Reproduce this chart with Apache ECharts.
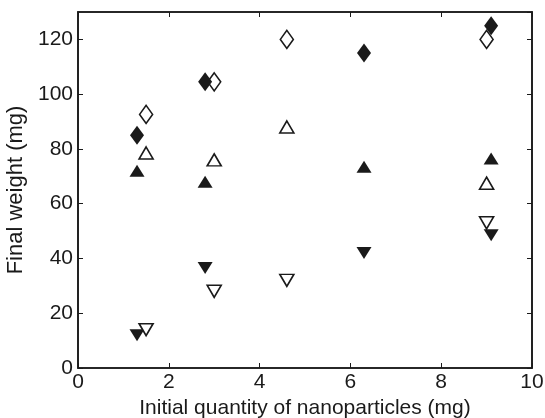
<!DOCTYPE html>
<html>
<head>
<meta charset="utf-8">
<script src="https://cdn.jsdelivr.net/npm/echarts@6/dist/echarts.min.js"></script>
<style>
  html, body { margin: 0; padding: 0; background: #fff; }
  #chart { width: 545px; height: 418px; }
</style>
</head>
<body>
<div id="chart"></div>
<script>
// x positions (initial quantity, mg)
const xFilled = [1.3, 2.8, 6.3, 9.1];
const xOpen = [1.5, 3.0, 4.6, 9.0];

// final weight (mg), per marker type
const filledDiamond = [85, 104.5, 115, 125];
const openDiamond = [92.6, 104.5, 120, 120];
const filledUp = [72, 68, 73.5, 76.5];
const openUp = [78.5, 76, 88, 67.5];
const filledDown = [12, 36.5, 42, 48.5];
const openDown = [14, 28, 32, 53];

const FONT = 'Liberation Sans, Arial, Helvetica, sans-serif';
const INK = '#1a1a1a';

function pairs(xs, ys) {
  return xs.map((x, i) => [x, ys[i]]);
}

function markerSeries(xs, ys, symbol, size, filled, rotate) {
  return {
    type: 'scatter',
    data: pairs(xs, ys),
    symbol: symbol,
    symbolSize: size,
    symbolRotate: rotate || 0,
    itemStyle: {
      color: filled ? INK : '#fff',
      borderColor: INK,
      borderWidth: filled ? 0 : 1.6,
      opacity: 1
    },
    emphasis: { disabled: true }
  };
}

const chart = echarts.init(document.getElementById('chart'), null, { renderer: 'canvas' });

const axisLine = { show: true, onZero: false, lineStyle: { color: INK, width: 1.6 } };
const tickIn = { show: true, inside: true, length: 5, lineStyle: { color: INK, width: 1 } };
const labelStyle = { color: INK, fontFamily: FONT, fontSize: 21 };
const titleStyle = { color: INK, fontFamily: FONT, fontSize: 21 };

chart.setOption({
  animation: false,
  backgroundColor: '#fff',
  grid: {
    left: 78, right: 13, top: 12, bottom: 50,
    outerBoundsMode: 'none', containLabel: false,
    show: true, borderColor: INK, borderWidth: 1.6, backgroundColor: 'transparent'
  },
  xAxis: [
    {
      type: 'value', min: 0, max: 10, interval: 2,
      name: 'Initial quantity of nanoparticles (mg)',
      nameLocation: 'middle', nameGap: 24,
      nameTextStyle: titleStyle,
      axisLine: axisLine, axisTick: tickIn,
      axisLabel: Object.assign({ margin: 4 }, labelStyle),
      splitLine: { show: false }
    },
    {
      type: 'value', min: 0, max: 10, interval: 2, position: 'top',
      axisLine: axisLine, axisTick: tickIn,
      axisLabel: { show: false }, splitLine: { show: false }
    }
  ],
  yAxis: [
    {
      type: 'value', min: 0, max: 130, interval: 20,
      name: 'Final weight (mg)',
      nameLocation: 'middle', nameGap: 41,
      nameTextStyle: Object.assign({}, titleStyle, { fontSize: 22 }),
      axisLine: axisLine, axisTick: tickIn,
      axisLabel: Object.assign({ margin: 5, showMaxLabel: false }, labelStyle),
      splitLine: { show: false }
    },
    {
      type: 'value', min: 0, max: 130, interval: 20, position: 'right',
      axisLine: axisLine, axisTick: tickIn,
      axisLabel: { show: false }, splitLine: { show: false }
    }
  ],
  series: [
    markerSeries(xOpen, openDiamond, 'diamond', [13, 18], false),
    markerSeries(xFilled, filledDiamond, 'diamond', [14, 19], true),
    markerSeries(xOpen, openUp, 'triangle', [14, 12], false),
    markerSeries(xFilled, filledUp, 'triangle', [15, 12], true),
    markerSeries(xFilled, filledDown, 'triangle', [15, 12], true, 180),
    markerSeries(xOpen, openDown, 'triangle', [14, 12], false, 180)
  ]
});
</script>
</body>
</html>
